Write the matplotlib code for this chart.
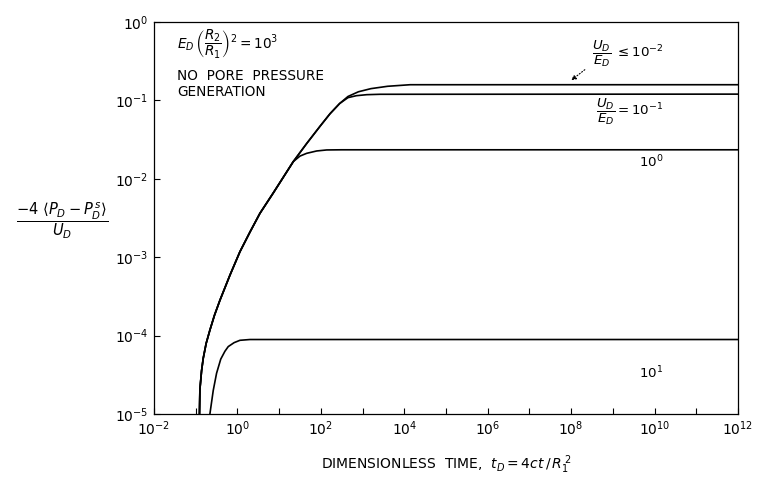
import numpy as np
import matplotlib
matplotlib.use("Agg")
import matplotlib.pyplot as plt

# Curve values, as log10(t_D) and log10(-4<P_D - P_D^s>/U_D)
# common rising branch shared by U_D/E_D <= 1e-2, 1e-1 and 1e0
rise_log_t = [-0.92, -0.91, -0.90, -0.86, -0.82, -0.75, -0.66, -0.55, -0.42,
              -0.18, 0.06, 0.30, 0.54, 0.86, 1.10, 1.34]
rise_log_p = [-5.30, -5.00, -4.69, -4.45, -4.29, -4.10, -3.93, -3.74, -3.55,
              -3.23, -2.93, -2.68, -2.44, -2.18, -1.98, -1.78]

# branch above the 1e0 kink, shared by 1e-2 and 1e-1
mid_log_t = [1.66, 1.98, 2.22, 2.45]
mid_log_p = [-1.55, -1.33, -1.17, -1.04]

# plateaus
le2_log_t = [2.65, 2.90, 3.20, 3.60, 4.14, 12.0]
le2_log_p = [-0.95, -0.89, -0.85, -0.82, -0.80, -0.80]

e1_log_t = [2.65, 2.85, 3.10, 3.42, 12.0]
e1_log_p = [-0.965, -0.94, -0.927, -0.922, -0.92]

e0_log_t = [1.50, 1.66, 1.90, 2.14, 2.50, 12.0]
e0_log_p = [-1.71, -1.675, -1.645, -1.632, -1.63, -1.63]

# U_D/E_D = 1e1 curve
p1_log_t = [-0.67, -0.66, -0.58, -0.50, -0.40, -0.30, -0.22, -0.08, 0.06, 0.30, 12.0]
p1_log_p = [-5.30, -5.00, -4.70, -4.48, -4.30, -4.20, -4.14, -4.09, -4.06, -4.05, -4.05]

x_ticks_exp = list(range(-2, 13))
y_ticks_exp = list(range(-5, 1))

W, H = 759, 483


def px(x, y):
    """pixel position in the reference -> figure fraction"""
    return x / W, 1 - y / H


def curve(*parts):
    t = np.concatenate([p[0] for p in parts])
    p = np.concatenate([p[1] for p in parts])
    return 10.0 ** t, 10.0 ** p


fig = plt.figure(figsize=(W / 100, H / 100), dpi=100)
ax = fig.add_axes([154 / W, 1 - 414 / H, (738 - 154) / W, (414 - 22) / H])
ax.set_xscale('log')
ax.set_yscale('log')

rise = (rise_log_t, rise_log_p)
mid = (mid_log_t, mid_log_p)
line_kw = dict(color='black', lw=1.2, solid_capstyle='round', solid_joinstyle='round')

ax.plot(*curve(rise, mid, (le2_log_t, le2_log_p)), **line_kw)
ax.plot(*curve(rise, mid, (e1_log_t, e1_log_p)), **line_kw)
ax.plot(*curve(rise, (e0_log_t, e0_log_p)), **line_kw)
ax.plot(*curve((p1_log_t, p1_log_p)), **line_kw)

ax.set_xlim(1e-2, 1e12)
ax.set_ylim(1e-5, 1e0)

ax.set_xticks([10.0 ** e for e in x_ticks_exp])
ax.set_xticklabels([rf'$10^{{{e}}}$' if e % 2 == 0 else '' for e in x_ticks_exp])
ax.set_yticks([10.0 ** e for e in y_ticks_exp])
ax.set_yticklabels([rf'$10^{{{e}}}$' for e in y_ticks_exp])
ax.minorticks_off()
ax.tick_params(direction='in', length=4, width=0.8, labelsize=10,
               top=False, right=False, pad=4)
for s in ax.spines.values():
    s.set_linewidth(0.9)

# axis labels
fig.text(*px(446, 465), r'DIMENSIONLESS  TIME,  $t_D = 4ct\,/\,R_1^{\,2}$',
         ha='center', va='center', fontsize=10)
fig.text(*px(62, 221), r'$\dfrac{-4\ \langle P_D - P_D^{\,s}\rangle}{U_D}$',
         ha='center', va='center', fontsize=10.5)

# annotations inside the plot
fig.text(*px(177, 44), r'$E_D\,\left(\dfrac{R_2}{R_1}\right)^2 = 10^3$',
         ha='left', va='center', fontsize=9.8)
fig.text(*px(177, 76), 'NO  PORE  PRESSURE', ha='left', va='center', fontsize=9.8)
fig.text(*px(177, 92), 'GENERATION', ha='left', va='center', fontsize=9.8)

fig.text(*px(592, 54), r'$\dfrac{U_D}{E_D}\ \leq 10^{-2}$',
         ha='left', va='center', fontsize=9.6)
fig.text(*px(596, 112), r'$\dfrac{U_D}{E_D} = 10^{-1}$',
         ha='left', va='center', fontsize=9.6)
fig.text(*px(651, 162), r'$10^{0}$', ha='center', va='center', fontsize=9.6)
fig.text(*px(651, 373), r'$10^{1}$', ha='center', va='center', fontsize=9.6)

ax.annotate('', xy=px(569, 82), xytext=px(587, 68),
            xycoords='figure fraction', textcoords='figure fraction',
            arrowprops=dict(arrowstyle='-|>', linestyle=':', color='black',
                            lw=0.8, mutation_scale=7))

fig.savefig('out.png', dpi=100)
